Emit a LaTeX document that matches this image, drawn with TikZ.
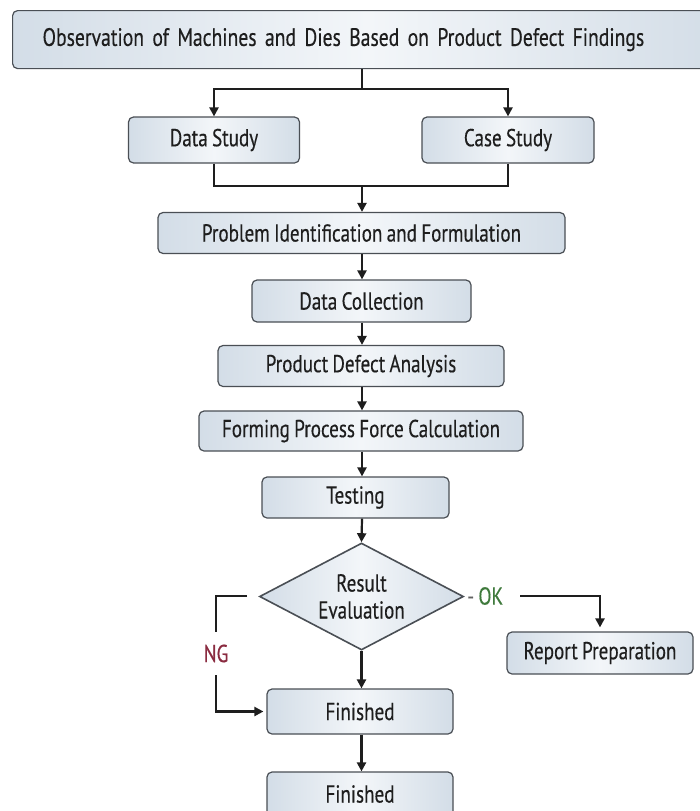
\documentclass[tikz,border=0pt]{standalone}
\usepackage{fontspec}
\setmainfont{PT Sans}[FakeStretch=0.78,FakeBold=0.35,WordSpace=0.85]
\usetikzlibrary{shapes.geometric,arrows.meta,calc}
\definecolor{boxedge}{HTML}{4A4F55}
\definecolor{boxside}{HTML}{D3DDE7}
\definecolor{boxmid}{HTML}{F3F6F9}
\definecolor{ink}{HTML}{1E1E1E}
\definecolor{okgreen}{HTML}{3F7A3C}
\definecolor{ngred}{HTML}{8A2B40}
\tikzset{
  box/.style={draw=boxedge, line width=1.2pt, rounded corners=5pt,
    left color=boxside, right color=boxside, middle color=boxmid,
    text=ink, font=\fontsize{24.5}{27}\selectfont, inner sep=0pt},
  decision/.style={diamond, draw=boxedge, line width=1.6pt,
    left color=boxside, right color=boxside, middle color=boxmid,
    text=ink, font=\fontsize{24.5}{27}\selectfont, align=center, inner sep=0pt},
  link/.style={draw=ink, line width=2.2pt},
  arrow/.style={link, -{Triangle[length=9pt,width=9pt]}},
}
\begin{document}
\begin{tikzpicture}[x=1pt,y=-1pt]
\useasboundingbox (0,0) rectangle (700,811);
\fill[white] (0,0) rectangle (700,811);

\node[box, anchor=north west, minimum width=710pt, minimum height=58pt,
  text width=650pt, align=left, inner xsep=30pt,
  font=\fontsize{25.2}{28}\selectfont] (top) at (12,10)
  {\raisebox{-3pt}{Observation of Machines and Dies Based on Product Defect Findings}};

\node[box, minimum width=171pt, minimum height=46pt] (ds) at (214,140) {Data Study};
\node[box, minimum width=172pt, minimum height=46pt] (cs) at (508,140) {Case Study};
\node[box, minimum width=407pt, minimum height=41pt] (prob) at (361.5,233) {Problem Identification and Formulation};
\node[box, minimum width=219pt, minimum height=42pt] (dc) at (361.5,301) {Data Collection};
\node[box, minimum width=286pt, minimum height=41pt] (pda) at (361,366) {Product Defect Analysis};
\node[box, minimum width=324pt, minimum height=40pt] (fpc) at (361,431) {Forming Process Force Calculation};
\node[box, minimum width=187pt, minimum height=41pt] (test) at (355.5,497.5) {Testing};
\node[decision, minimum width=204pt, minimum height=107pt, aspect=1.9] (dia) at (361.5,596.5) {Result\\Evaluation};
\node[box, minimum width=186pt, minimum height=42pt] (rp) at (600,653) {Report Preparation};
\node[box, minimum width=186pt, minimum height=45pt] (f1) at (360,711.5) {Finished};
\node[box, minimum width=186pt, minimum height=44pt] (f2) at (360,794) {Finished};

\node[text=okgreen, font=\fontsize{24.5}{27}\selectfont, inner sep=0pt, anchor=west] (ok) at (467,596) {\textcolor{ink!70}{-} OK};
\node[text=ngred, font=\fontsize{24.5}{27}\selectfont, inner sep=0pt, minimum height=43pt] (ng) at (216,653.5) {NG};

\coordinate (split) at (362,89);
\coordinate (join) at (362,186);
\coordinate (ngstart) at (247,596);
\coordinate (okstart) at (520,596);

% top split
\draw[link] (top.south -| split) -- (split);
\draw[arrow] (split) -| (ds.north);
\draw[arrow] (split) -| (cs.north);
% join
\draw[link] (ds.south) |- (join);
\draw[link] (cs.south) |- (join);
\draw[arrow] (join) -- (prob.north -| join);
% chain
\draw[arrow] (prob.south -| join) -- (dc.north -| join);
\draw[arrow] (dc.south -| join) -- (pda.north -| join);
\draw[arrow] (pda.south -| join) -- (fpc.north -| join);
\draw[arrow] (fpc.south -| join) -- (test.north -| join);
\draw[arrow] (test.south -| join) -- (dia.north);
\draw[arrow] (dia.south) -- (f1.north -| dia.south);
\draw[arrow] (f1.south -| dia.south) -- (f2.north -| dia.south);
% OK branch
\draw[arrow, shorten >=4pt] (okstart) -| (rp.north);
% NG branch
\draw[link] (ngstart) -| (ng.north);
\draw[arrow, shorten >=3pt] (ng.south) |- (f1.west);
\end{tikzpicture}
\end{document}
